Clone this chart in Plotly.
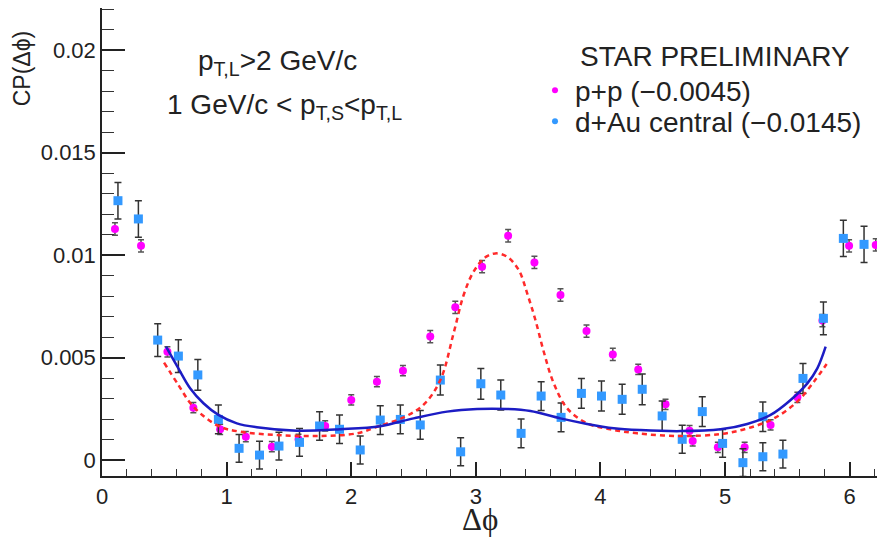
import plotly.graph_objects as go

# ---- data ----
pp_x = [0.104, 0.313, 0.525, 0.733, 0.948, 1.154, 1.363, 1.577, 1.791, 2.000,
        2.206, 2.415, 2.634, 2.835, 3.050, 3.259, 3.470, 3.679, 3.888, 4.099,
        4.303, 4.522, 4.715, 4.740, 4.942, 5.157, 5.365, 5.580, 5.781, 5.995, 6.209]
pp_y = [0.01127, 0.01045, 0.00528, 0.00255, 0.00150, 0.00114, 0.00065, 0.00101, 0.00166, 0.00293,
        0.00382, 0.00436, 0.00602, 0.00745, 0.00943, 0.01094, 0.00964, 0.00805, 0.00629, 0.00515,
        0.00442, 0.00272, 0.00143, 0.00093, 0.00062, 0.00062, 0.00171, 0.00306, 0.00680, 0.01045, 0.01049]
pp_err = [0.0003, 0.0003, 0.00025, 0.00025, 0.00025, 0.00025, 0.00025, 0.00025, 0.00025, 0.00025,
          0.00025, 0.00025, 0.0003, 0.0003, 0.0003, 0.0003, 0.0003, 0.0003, 0.0003, 0.0003,
          0.00025, 0.00025, 0.00025, 0.00025, 0.00025, 0.00025, 0.00025, 0.00025, 0.0003, 0.0003, 0.0003]

dau_x = [0.128, 0.292, 0.447, 0.613, 0.769, 0.934, 1.100, 1.264, 1.420, 1.585,
         1.746, 1.906, 2.072, 2.233, 2.394, 2.554, 2.715, 2.878, 3.040, 3.200,
         3.363, 3.524, 3.684, 3.847, 4.008, 4.174, 4.335, 4.495, 4.656, 4.817,
         4.980, 5.143, 5.303, 5.303, 5.464, 5.625, 5.789, 5.949, 6.115, 6.275]
dau_y = [0.01265, 0.01176, 0.00585, 0.00507, 0.00415, 0.00198, 0.00057, 0.00024, 0.00068, 0.00086,
         0.00166, 0.00150, 0.00049, 0.00195, 0.00198, 0.00171, 0.00390, 0.00040, 0.00372, 0.00317,
         0.00130, 0.00312, 0.00208, 0.00325, 0.00312, 0.00296, 0.00345, 0.00215, 0.00101, 0.00236,
         0.00081, -0.00013, 0.00211, 0.00016, 0.00029, 0.00398, 0.00691, 0.01081, 0.01052, 0.01008]
dau_err = [0.00089, 0.00089, 0.00080, 0.00080, 0.00075, 0.00070, 0.00068, 0.00068, 0.00068, 0.00068,
           0.00070, 0.00070, 0.00068, 0.00070, 0.00070, 0.00070, 0.00073, 0.00068, 0.00075, 0.00073,
           0.00070, 0.00070, 0.00070, 0.00073, 0.00073, 0.00073, 0.00075, 0.00073, 0.00068, 0.00073,
           0.00068, 0.00068, 0.00072, 0.00068, 0.00068, 0.00073, 0.00080, 0.00088, 0.00088, 0.00088]

# fit curves
dau_fit_x = [0.514, 0.613, 0.707, 0.814, 0.934, 1.082, 1.242, 1.564, 1.912, 2.233,
             2.500, 2.769, 3.010, 3.250, 3.438, 3.679, 3.893, 4.107, 4.321, 4.643,
             4.964, 5.178, 5.365, 5.526, 5.660, 5.740, 5.807]
dau_fit_y = [0.00553, 0.00447, 0.00350, 0.00277, 0.00220, 0.00179, 0.00160, 0.00143, 0.00150, 0.00165,
             0.00203, 0.00236, 0.00249, 0.00249, 0.00239, 0.00203, 0.00176, 0.00155, 0.00146, 0.00141,
             0.00150, 0.00176, 0.00220, 0.00293, 0.00374, 0.00447, 0.00553]

pp_fit_x = [0.498, 0.613, 0.733, 0.934, 1.108, 1.403, 1.724, 2.045, 2.206, 2.420,
            2.581, 2.715, 2.822, 2.902, 2.982, 3.076, 3.157, 3.250, 3.344, 3.416,
            3.478, 3.545, 3.625, 3.733, 3.893, 4.080, 4.295, 4.643, 4.964, 5.178,
            5.392, 5.580, 5.713, 5.815]
pp_fit_y = [0.00475, 0.00366, 0.00260, 0.00166, 0.00138, 0.00122, 0.00117, 0.00130, 0.00162, 0.00208,
            0.00270, 0.00390, 0.00620, 0.00805, 0.00919, 0.00989, 0.01008, 0.00992, 0.00927, 0.00805,
            0.00683, 0.00528, 0.00374, 0.00252, 0.00179, 0.00150, 0.00130, 0.00117, 0.00127, 0.00154,
            0.00203, 0.00285, 0.00382, 0.00468]

y_tickvals = [0, 0.005, 0.01, 0.015, 0.02]
y_ticktext = ["0", "0.005", "0.01", "0.015", "0.02"]
x_tickvals = [0, 1, 2, 3, 4, 5, 6]
x_ticktext = ["0", "1", "2", "3", "4", "5", "6"]

pp_label = "p+p (\u22120.0045)"
dau_label = "d+Au central (\u22120.0145)"

FONT = "Liberation Sans, Arial, Helvetica, sans-serif"
TXT = "#222222"
MAG = "#ff00ff"
BLU = "#3399ff"

fig = go.Figure()

fig.add_trace(go.Scatter(
    x=pp_x, y=pp_y, mode="markers", showlegend=False,
    marker=dict(symbol="circle", size=8, color=MAG),
    error_y=dict(type="data", array=pp_err, color="#555555", thickness=1.5, width=3),
))
fig.add_trace(go.Scatter(
    x=dau_x, y=dau_y, mode="markers", showlegend=False,
    marker=dict(symbol="square", size=9, color=BLU),
    error_y=dict(type="data", array=dau_err, color="#333333", thickness=1.5, width=3.5),
))
fig.add_trace(go.Scatter(
    x=pp_fit_x, y=pp_fit_y, mode="lines", showlegend=False,
    line=dict(color="#ff2a2a", width=2.5, dash="5px,4px", shape="spline"),
))
fig.add_trace(go.Scatter(
    x=dau_fit_x, y=dau_fit_y, mode="lines", showlegend=False,
    line=dict(color="#1c1cc4", width=2.5, shape="spline"),
))
# legend entries (one legend box per entry so the spacing matches)
fig.add_trace(go.Scatter(x=[None], y=[None], mode="markers", name=pp_label, legend="legend",
                         marker=dict(symbol="circle", size=6, color=MAG)))
fig.add_trace(go.Scatter(x=[None], y=[None], mode="markers", name=dau_label, legend="legend2",
                         marker=dict(symbol="circle", size=6, color=BLU)))

leg_common = dict(xanchor="left", yanchor="top", bgcolor="rgba(0,0,0,0)",
                  font=dict(size=28, family=FONT, color=TXT))

# the page body adds an 8px offset; the figure is sized to fit the 885x537 window
fig.update_layout(
    width=877, height=529,
    margin=dict(l=94, r=0, t=0, b=61, autoexpand=False),
    paper_bgcolor="white", plot_bgcolor="white",
    font=dict(family=FONT, color=TXT),
    legend=dict(x=0.553, y=0.8772, **leg_common),
    legend2=dict(x=0.553, y=0.811, **leg_common),
    xaxis=dict(range=[0, 6.2832], showgrid=False, zeroline=False,
               showline=True, linecolor=TXT, linewidth=1.5, mirror=True,
               ticks="inside", ticklen=14, tickwidth=1.5, tickcolor=TXT,
               tickvals=x_tickvals, ticktext=x_ticktext,
               tickfont=dict(size=22, family=FONT, color=TXT),
               minor=dict(ticks="inside", ticklen=7, tickwidth=1.2, tickcolor="#333333", dtick=0.2, tick0=0, showgrid=False)),
    yaxis=dict(range=[-0.00078, 0.02205], showgrid=False, zeroline=False,
               showline=True, linecolor=TXT, linewidth=1.5, mirror=True,
               ticks="inside", ticklen=23, tickwidth=1.5, tickcolor=TXT,
               tickvals=y_tickvals, ticktext=y_ticktext,
               tickfont=dict(size=22, family=FONT, color=TXT),
               minor=dict(ticks="inside", ticklen=12, tickwidth=1.2, tickcolor="#333333", dtick=0.001, tick0=0, showgrid=False)),
)

fig.add_annotation(xref="paper", yref="paper", x=-0.102, y=0.957, textangle=-90,
                   text="CP(\u0394\u03d5)", showarrow=False, xanchor="center", yanchor="top",
                   font=dict(size=23, family=FONT, color=TXT))
fig.add_annotation(xref="paper", yref="paper", x=0.483, y=-0.094,
                   text="\u0394\u03d5", showarrow=False, xanchor="center", yanchor="middle",
                   font=dict(size=31, family="Liberation Serif, Times New Roman, serif", color=TXT))
fig.add_annotation(xref="paper", yref="paper", x=0.2235, y=0.8825,
                   text="p<sub>T,L</sub>&gt;2 GeV/c", showarrow=False, xanchor="center", yanchor="middle",
                   font=dict(size=28, family=FONT, color=TXT))
fig.add_annotation(xref="paper", yref="paper", x=0.2337, y=0.7885,
                   text="1 GeV/c &lt; p<sub>T,S</sub>&lt;p<sub>T,L</sub>", showarrow=False,
                   xanchor="center", yanchor="middle",
                   font=dict(size=28, family=FONT, color=TXT))
fig.add_annotation(xref="paper", yref="paper", x=0.608, y=0.8953,
                   text="STAR PRELIMINARY", showarrow=False, xanchor="left", yanchor="middle",
                   font=dict(size=28, family=FONT, color=TXT))

fig.write_html("out.html")
